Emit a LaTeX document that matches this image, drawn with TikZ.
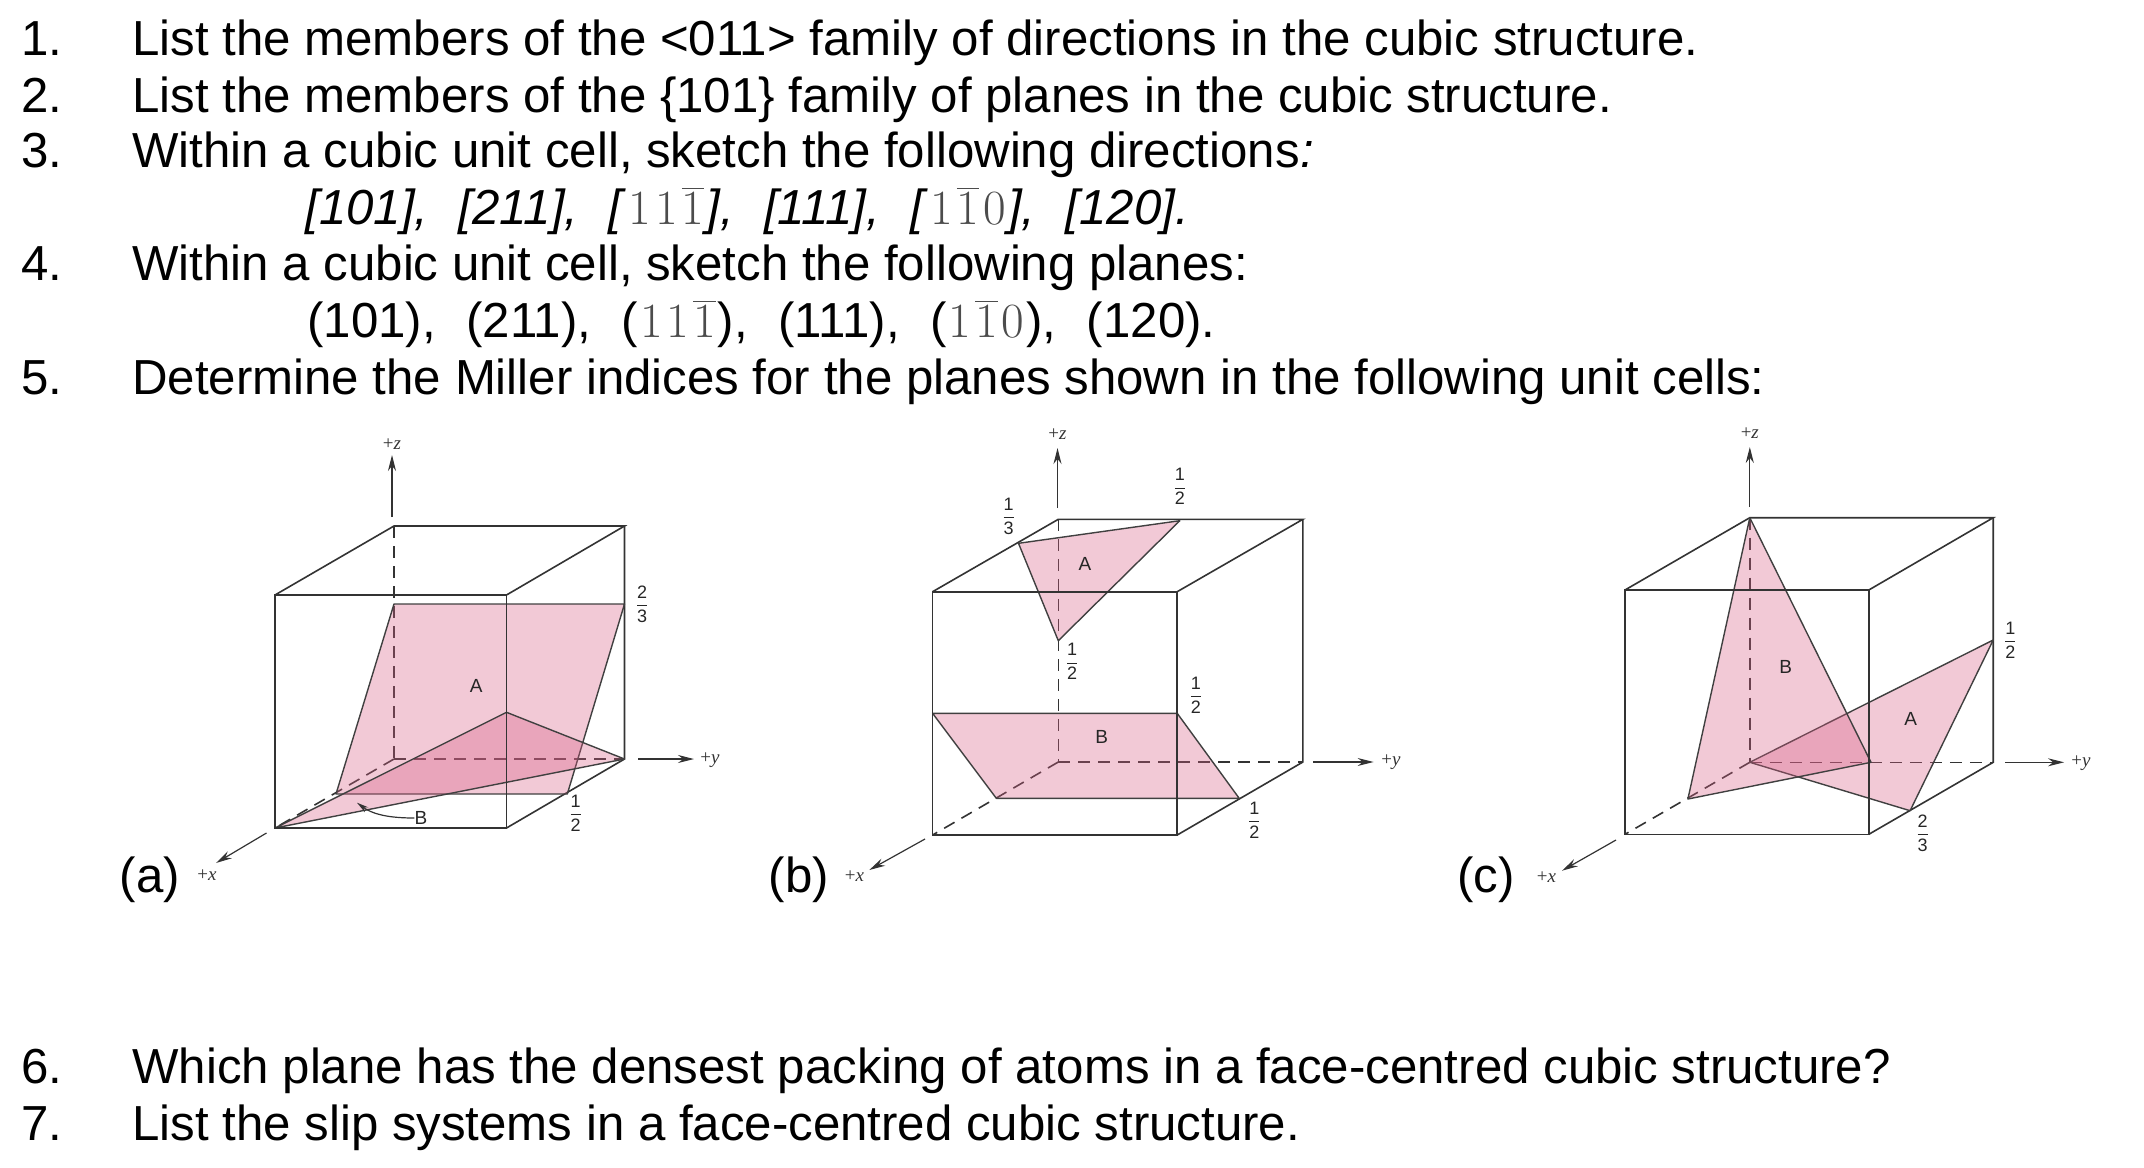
\documentclass[tikz,border=0pt]{standalone}
\usepackage{fontspec}
\setmainfont{Liberation Sans}
\newfontfamily\axisfont{Liberation Serif}
\newfontfamily\idxfont{Latin Modern Roman}
\usetikzlibrary{arrows.meta,positioning,calc}

% Ziffer mit Strich, grau wie im Original
\newcommand{\plainidx}[1]{\kern1pt{\color{black!70}\idxfont #1}\kern1pt}
\newcommand{\baridx}[1]{\kern1pt{\color{black!70}$\overline{\mbox{\idxfont #1}}$}\kern1pt}
\newcommand{\sepidx}{\hspace{.62em}}
\newcommand{\cellfrac}[2]{$\displaystyle\frac{\mbox{#1}}{\mbox{#2}}$}

\tikzset{
  itemtext/.style={anchor=base west,inner sep=0pt,font=\fontsize{24.6}{28}\selectfont},
  cellname/.style={inner sep=0pt,font=\fontsize{9.5}{11}\selectfont,text=black!85},
  axisname/.style={inner sep=0pt,font=\fontsize{9.5}{11}\selectfont\axisfont,text=black!80},
  fraclabel/.style={inner sep=0pt,font=\fontsize{9}{10}\selectfont,text=black!85},
  celledge/.style={draw=black!80,line width=.8pt},
  hiddenedge/.style={draw=black!80,line width=.8pt,dash pattern=on 6pt off 4pt},
  planeface/.style={fill=pinkplane,fill opacity=.333,draw=black!75,line width=.7pt,line join=round},
  axisarrow/.style={draw=black!80,line width=.6pt,-{Stealth[length=8pt,width=4pt]}},
}
\definecolor{pinkplane}{RGB}{216,93,132}

% Kanten hinter den Ebenen
\newcommand{\cellback}[1]{
  \draw[hiddenedge] (#1btl) -- (#1bbl);
  \draw[hiddenedge] (#1bbl) -- (#1bbr);
  \draw[hiddenedge] (#1bbl) -- (#1fbl);
  \draw[celledge] (#1ftl) -- (#1btl) -- (#1btr) -- (#1ftr);
  \draw[celledge] (#1btr) -- (#1bbr) -- (#1fbr);
}
% Vorderseite zuletzt
\newcommand{\cellfront}[1]{
  \draw[celledge] (#1ftl) -- (#1ftr) -- (#1fbr) -- (#1fbl) -- cycle;
}

\begin{document}
\begin{tikzpicture}[x=.5pt,y=-.5pt]
\useasboundingbox (0,0) rectangle (2144,1168);

% Fragen
\node[itemtext] (num1) at (21,55) {1.};
\node[itemtext] (txt1) at (132,55) {List the members of the <011> family of directions in the cubic structure.};
\node[itemtext] (num2) at (21,112) {2.};
\node[itemtext] (txt2) at (132,112) {List the members of the \{101\} family of planes in the cubic structure.};
\node[itemtext] (num3) at (21,167) {3.};
\node[itemtext] (txt3) at (132,167) {Within a cubic unit cell, sketch the following directions\textit{:}};
\node[itemtext] (dirs) at (305,224) {\textit{[101],\sepidx[211],\sepidx[}\plainidx{1}\plainidx{1}\baridx{1}\textit{],\sepidx[111],\sepidx[}\plainidx{1}\baridx{1}\plainidx{0}\textit{],\sepidx[120].}};
\node[itemtext] (num4) at (21,280) {4.};
\node[itemtext] (txt4) at (132,280) {Within a cubic unit cell, sketch the following planes:};
\node[itemtext] (plns) at (307,337) {(101),\sepidx(211),\sepidx(\plainidx{1}\plainidx{1}\baridx{1}),\sepidx(111),\sepidx(\plainidx{1}\baridx{1}\plainidx{0}),\sepidx(120).};
\node[itemtext] (num5) at (21,394) {5.};
\node[itemtext] (txt5) at (132,394) {Determine the Miller indices for the planes shown in the following unit cells:};
\node[itemtext] (num6) at (21,1083) {6.};
\node[itemtext] (txt6) at (132,1083) {Which plane has the densest packing of atoms in a face-centred cubic structure?};
\node[itemtext] (num7) at (21,1140) {7.};
\node[itemtext] (txt7) at (132,1140) {List the slip systems in a face-centred cubic structure.};

% Zelle (a)
\coordinate (aftl) at (275,595);   \coordinate (aftr) at (506.5,595);
\coordinate (afbl) at (275,828);   \coordinate (afbr) at (506.5,828);
\coordinate (abtl) at (394,526);   \coordinate (abtr) at (624.5,526);
\coordinate (abbl) at (394,759);   \coordinate (abbr) at (624.5,759);
\coordinate (azs) at (392,517);    \coordinate (aze) at (392,455);
\coordinate (ays) at (638,759);    \coordinate (aye) at (694,759);
\coordinate (axs) at (266.5,833);  \coordinate (axe) at (216,863);
\cellback{a}
\draw[planeface] (394,604) -- (624.5,604) -- (567.3,794) -- (336,794) -- cycle;
\draw[planeface] (afbl) -- (506.5,712.3) -- (abbr) -- cycle;
\cellfront{a}
\draw[axisarrow] (azs) -- (aze);
\draw[axisarrow] (ays) -- (aye);
\draw[axisarrow] (axs) -- (axe);
\node[axisname] (azn) at (392,444) {+\textit{z}};
\node[axisname] (ayn) at (710,760) {+\textit{y}};
\node[axisname] (axn) at (207,875) {+\textit{x}};
\node[cellname] (aA) at (476.3,686) {A};
\node[cellname] (aB) at (421,818) {B};
\coordinate (aBtip) at (357,802.7);
\draw[black!80,line width=.6pt,-{Stealth[length=6pt,width=3pt]}] (aB.west) .. controls (395,818) and (375,816) .. (aBtip);
\node[fraclabel] (a23) at (642,604) {\cellfrac{2}{3}};
\node[fraclabel] (a12) at (575.5,813) {\cellfrac{1}{2}};
\node[itemtext,anchor=center] (acap) at (150,880) {(a)};

% Zelle (b)
\coordinate (bftl) at (932.6,591.7);  \coordinate (bftr) at (1177.2,591.7);
\coordinate (bfbl) at (932.6,835);    \coordinate (bfbr) at (1177.2,835);
\coordinate (bbtl) at (1058.3,519.3); \coordinate (bbtr) at (1302.9,519.3);
\coordinate (bbbl) at (1058.3,762);   \coordinate (bbbr) at (1302.9,762);
\coordinate (bzs) at (1057.5,508);    \coordinate (bze) at (1057.5,448);
\coordinate (bys) at (1313,762);      \coordinate (bye) at (1373.6,762);
\coordinate (bxs) at (925,839);       \coordinate (bxe) at (869.3,870);
\cellback{b}
\draw[planeface] (1018.5,543.3) -- (1179.8,520.7) -- (1058.3,640.7) -- cycle;
\draw[planeface] (932.6,713.3) -- (1177.2,713.3) -- (1239.2,798.3) -- (996.3,798.3) -- cycle;
\cellfront{b}
\draw[axisarrow] (bzs) -- (bze);
\draw[axisarrow] (bys) -- (bye);
\draw[axisarrow] (bxs) -- (bxe);
\node[axisname] (bzn) at (1057.5,434) {+\textit{z}};
\node[axisname] (byn) at (1391,762) {+\textit{y}};
\node[axisname] (bxn) at (854.5,876) {+\textit{x}};
\node[cellname] (bA) at (1085,564) {A};
\node[cellname] (bB) at (1101.7,736.7) {B};
\node[fraclabel] (b13) at (1008.5,516) {\cellfrac{1}{3}};
\node[fraclabel] (b12t) at (1179.8,486.7) {\cellfrac{1}{2}};
\node[fraclabel] (b12z) at (1072.2,661.7) {\cellfrac{1}{2}};
\node[fraclabel] (b12r) at (1195.8,695) {\cellfrac{1}{2}};
\node[fraclabel] (b12y) at (1254.4,820) {\cellfrac{1}{2}};
\node[itemtext,anchor=center] (bcap) at (799,880) {(b)};

% Zelle (c)
\coordinate (cftl) at (1625,590);     \coordinate (cftr) at (1868.8,590);
\coordinate (cfbl) at (1625,834.3);   \coordinate (cfbr) at (1868.8,834.3);
\coordinate (cbtl) at (1749.8,517.7); \coordinate (cbtr) at (1993.2,517.7);
\coordinate (cbbl) at (1749.8,762.3); \coordinate (cbbr) at (1993.2,762.3);
\coordinate (czs) at (1749.8,507);    \coordinate (cze) at (1749.8,447);
\coordinate (cys) at (2005,762.3);    \coordinate (cye) at (2064,762.3);
\coordinate (cxs) at (1616,840);      \coordinate (cxe) at (1562,870.7);
\cellback{c}
\draw[planeface] (cbbl) -- (1993.2,640) -- (1910.1,810.7) -- cycle;
\draw[planeface] (cbtl) -- (1871,762.3) -- (1687.9,799) -- cycle;
\cellfront{c}
\draw[axisarrow] (czs) -- (cze);
\draw[axisarrow] (cys) -- (cye);
\draw[axisarrow] (cxs) -- (cxe);
\node[axisname] (czn) at (1749.8,433) {+\textit{z}};
\node[axisname] (cyn) at (2081,763) {+\textit{y}};
\node[axisname] (cxn) at (1546.4,877) {+\textit{x}};
\node[cellname] (cA) at (1910.6,719.3) {A};
\node[cellname] (cB) at (1785.8,667.3) {B};
\node[fraclabel] (c12) at (2010.3,640) {\cellfrac{1}{2}};
\node[fraclabel] (c23) at (1922.7,833.3) {\cellfrac{2}{3}};
\node[itemtext,anchor=center] (ccap) at (1486,880) {(c)};
\end{tikzpicture}
\end{document}
